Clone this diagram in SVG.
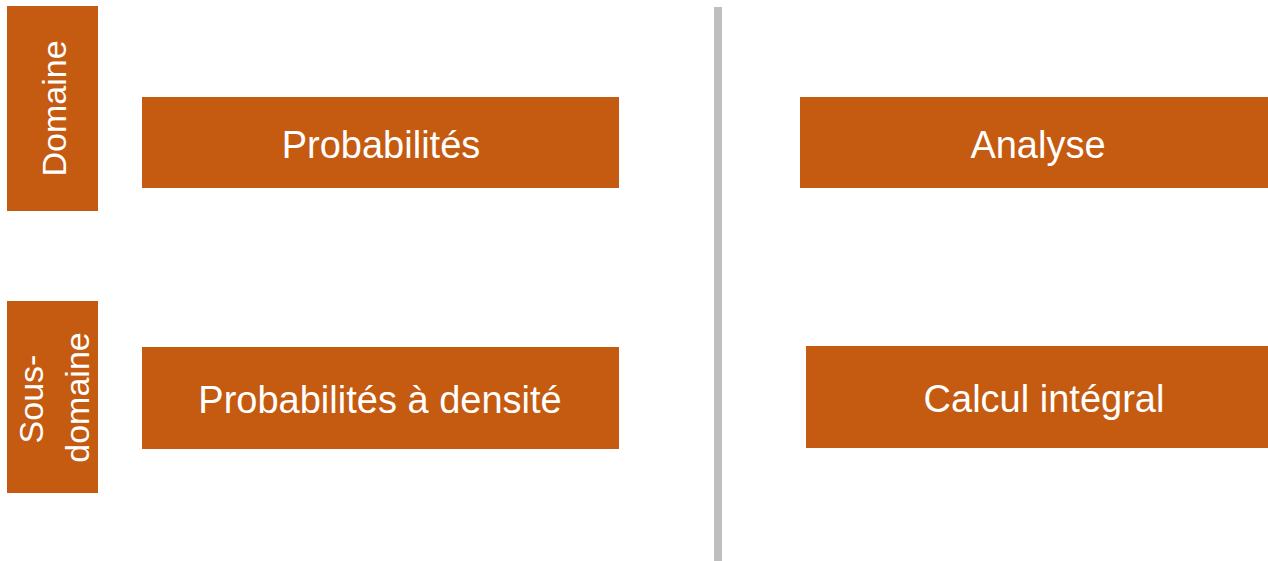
<svg xmlns="http://www.w3.org/2000/svg" width="1268" height="561" viewBox="0 0 1268 561">
  <style>
    .box { fill: #C55A11; }
    .lbl { fill: #FFFFFF; font-family: "Liberation Sans", Arial, sans-serif; font-size: 38px; text-anchor: middle; }
    .side { fill: #FFFFFF; font-family: "Liberation Sans", Arial, sans-serif; font-size: 34px; text-anchor: middle; }
    .divider { fill: #BFBFBF; }
  </style>
  <rect width="1268" height="561" fill="#FFFFFF"/>

  <!-- row headers -->
  <g id="row-domaine">
    <rect class="box" x="7" y="6" width="91" height="205"/>
    <text class="side" transform="translate(66,108.5) rotate(-90)">Domaine</text>
  </g>
  <g id="row-sous-domaine">
    <rect class="box" x="7" y="301" width="91" height="192"/>
    <text class="side" transform="translate(43,399) rotate(-90)">Sous-</text>
    <text class="side" transform="translate(89,397.5) rotate(-90)">domaine</text>
  </g>

  <!-- separator between the two columns -->
  <g id="connectors">
    <rect class="divider" x="714" y="7" width="8" height="554"/>
  </g>

  <!-- left column -->
  <g id="probabilites">
    <rect class="box" x="142" y="97" width="477" height="91"/>
    <text class="lbl" x="381" y="158">Probabilités</text>
  </g>
  <g id="probabilites-densite">
    <rect class="box" x="142" y="347" width="477" height="102"/>
    <text class="lbl" x="380" y="413">Probabilités à densité</text>
  </g>

  <!-- right column -->
  <g id="analyse">
    <rect class="box" x="800" y="97" width="468" height="91"/>
    <text class="lbl" x="1038" y="158">Analyse</text>
  </g>
  <g id="calcul-integral">
    <rect class="box" x="806" y="346" width="462" height="102"/>
    <text class="lbl" x="1044" y="412">Calcul intégral</text>
  </g>
</svg>
